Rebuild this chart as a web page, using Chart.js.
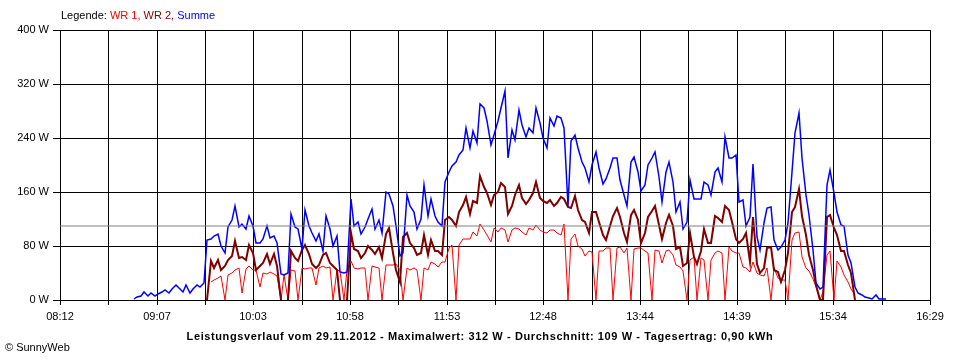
<!DOCTYPE html>
<html><head><meta charset="utf-8">
<script src="https://cdn.jsdelivr.net/npm/chart.js@4"></script>
<style>
html,body{margin:0;padding:0;background:#fff;}
#wrap{position:relative;width:960px;height:360px;background:#fff;overflow:hidden;font-family:"Liberation Sans",Arial,sans-serif;}
#c{position:absolute;left:0;top:0;}
.txt{position:absolute;font-size:11px;line-height:13px;white-space:nowrap;color:#000;}
#legend{left:61px;top:9px;}
#title{left:0;width:960px;text-align:center;top:330px;font-weight:bold;letter-spacing:0.6px;}
#copy{left:5px;top:341px;}
</style></head><body>
<div id="wrap">
<canvas id="c" width="960" height="360"></canvas>
<div id="legend" class="txt">Legende: <span style="color:#ff0000">WR 1,</span> <span style="color:#800000">WR 2,</span> <span style="color:#0000ff">Summe</span></div>
<div id="title" class="txt">Leistungsverlauf vom 29.11.2012 - Maximalwert: 312 W - Durchschnitt: 109 W - Tagesertrag: 0,90 kWh</div>
<div id="copy" class="txt">© SunnyWeb</div>
</div>
<script>
// x-axis tick labels (every second grid line carries a label)
const timeLabels = ['08:12','09:07','10:03','10:58','11:53','12:48','13:44','14:39','15:34','16:29'];
const axisStart = '08:12';
const axisEnd = '16:29';
// sampling grid of the read-off values
const sampleStart = '08:54';
const sampleStepMin = 2;
// y-axis
const yTicks = [0, 80, 160, 240, 320, 400];
const average = 109; // Durchschnitt

// Summe (blue)
const summe = [
2,5,6,12,6,10,6,9,12,15,10,17,22,18,12,22,10,17,22,20,25,
89,90,95,98,80,70,108,118,140,108,112,105,125,110,85,
85,90,110,92,95,85,38,37,40,128,108,105,75,133,110,100,88,98,72,125,105,80,95,42,40,42,150,110,115,98,108,120,135,105,118,100,160,157,
140,110,65,70,155,140,130,105,120,170,125,150,125,115,110,
175,190,198,205,215,222,255,225,250,232,
290,285,265,230,245,265,285,310,210,252,
237,282,260,242,255,248,285,262,240,225,
270,258,272,270,255,140,235,245,225,205,
195,175,200,220,195,172,180,195,210,210,
178,155,140,205,212,190,162,170,200,210,
220,182,145,190,205,175,130,145,105,115,
178,150,150,150,175,170,155,190,195,175,
242,210,210,215,145,
148,109,123,202,94,74,114,136,138,89,
74,79,89,114,190,247,277,210,155,126,
74,25,17,20,170,193,158,131,111,109,
67,55,20,10,8,5,3,2,8,2,
1,1
];

// WR 2 (dark red)
const wr2 = [
null,null,null,null,null,null,null,null,null,null,null,null,null,null,null,null,null,null,null,null,null,
0,58,48,60,45,50,60,65,88,62,64,60,82,70,45,
50,55,68,54,68,50,0,null,0,72,62,58,74,82,68,54,48,52,66,70,55,50,45,0,null,0,100,75,72,62,70,80,74,68,78,62,98,106,
69,44,27,94,99,84,77,67,69,96,67,89,72,72,67,
119,123,119,109,131,141,153,128,147,144,
183,168,158,141,155,160,173,168,128,139,
155,170,151,142,148,158,175,151,146,144,
148,139,144,152,149,138,136,154,134,119,
115,100,131,131,115,96,89,109,124,136,
123,99,86,126,134,119,84,99,123,132,
139,111,91,114,126,109,76,79,50,55,
100,64,54,72,105,84,84,124,121,115,
140,133,115,90,84,
91,99,57,123,54,40,47,77,79,44,
42,27,44,69,131,138,165,125,96,67,
44,22,0,0,123,126,106,96,72,72,
52,40,0,
null,null,null,null,null,null,null,null,null
];

// WR 1 (red)
const wr1 = [
null,null,null,null,null,null,null,null,null,null,null,null,null,null,null,null,null,null,null,null,null,null,
27,30,33,36,0,37,40,44,48,10,46,50,44,45,
20,40,38,42,38,36,0,37,0,44,43,0,47,46,48,47,22,48,50,47,49,0,44,43,0,44,58,47,46,48,47,0,50,49,48,0,52,52,
52,53,44,0,47,44,47,44,0,47,44,57,54,49,57,57,
77,81,0,81,91,91,90,101,95,
113,104,96,86,106,101,106,104,86,103,
106,105,101,96,106,103,111,103,101,100,
104,104,100,96,113,0,90,98,80,75,
65,73,71,0,72,73,77,77,0,77,
79,70,77,0,75,77,77,73,70,0,
74,72,55,73,74,67,52,49,43,0,
59,64,0,62,59,0,60,70,72,70,
0,79,72,70,70,
49,47,42,57,40,37,36,47,0,47,
32,30,30,0,89,99,101,64,47,43,
31,19,0,12,67,72,0,58,49,37,
27,17,8,
null,null,null,null,null,null,null,null,null
];

function toMin(s){ const p = s.split(':'); return (+p[0])*60 + (+p[1]); }
const xMin = toMin(axisStart), xMax = toMin(axisEnd);
const t0 = toMin(sampleStart);
const times = summe.map((_, i) => t0 + i * sampleStepMin);
const pts = arr => arr.map((v, i) => ({x: times[i], y: v}));
const gridCount = (timeLabels.length - 1) * 2;
const gridVals = [];
for (let i = 0; i <= gridCount; i++) gridVals.push(xMin + (xMax - xMin) * i / gridCount);

const font = {family: '"Liberation Sans", Arial, sans-serif', size: 11};

new Chart(document.getElementById('c'), {
  type: 'line',
  data: {
    datasets: [
      {label: 'Durchschnitt', data: [{x: xMin, y: average}, {x: xMax, y: average}], borderColor: '#808080', borderWidth: 1, order: 0},
      {label: 'Summe', data: pts(summe), borderColor: '#0000ff', borderWidth: 1.5, order: 1},
      {label: 'WR 2', data: pts(wr2), borderColor: '#800000', borderWidth: 2, order: 2},
      {label: 'WR 1', data: pts(wr1), borderColor: '#ff0000', borderWidth: 1, order: 3}
    ]
  },
  options: {
    responsive: false,
    animation: false,
    devicePixelRatio: 1,
    spanGaps: false,
    elements: {point: {radius: 0}, line: {tension: 0, fill: false}},
    layout: {padding: {left: 0, right: 30, top: 30, bottom: 0}},
    plugins: {legend: {display: false}, tooltip: {enabled: false}, title: {display: false}},
    scales: {
      x: {
        type: 'linear', min: xMin, max: xMax,
        alignToPixels: true,
        border: {display: false},
        grid: {color: '#000', lineWidth: 1, tickLength: 5, tickColor: '#000'},
        ticks: {
          font: font, color: '#000', padding: 5, autoSkip: false, maxRotation: 0,
          callback: (v, i) => (i % 2 === 0 ? timeLabels[i / 2] : '')
        },
        afterBuildTicks: s => { s.ticks = gridVals.map(v => ({value: v})); },
        afterFit: s => { s.height = 60; }
      },
      y: {
        min: yTicks[0], max: yTicks[yTicks.length - 1],
        alignToPixels: true,
        border: {display: false},
        grid: {color: '#000', lineWidth: 1, tickLength: 7, tickColor: '#000'},
        ticks: {font: font, color: '#000', padding: 4, stepSize: yTicks[1] - yTicks[0], callback: v => v + ' W'},
        afterBuildTicks: s => { s.ticks = yTicks.map(v => ({value: v})); },
        afterFit: s => { s.width = 60; }
      }
    }
  }
});
</script>
</body></html>
